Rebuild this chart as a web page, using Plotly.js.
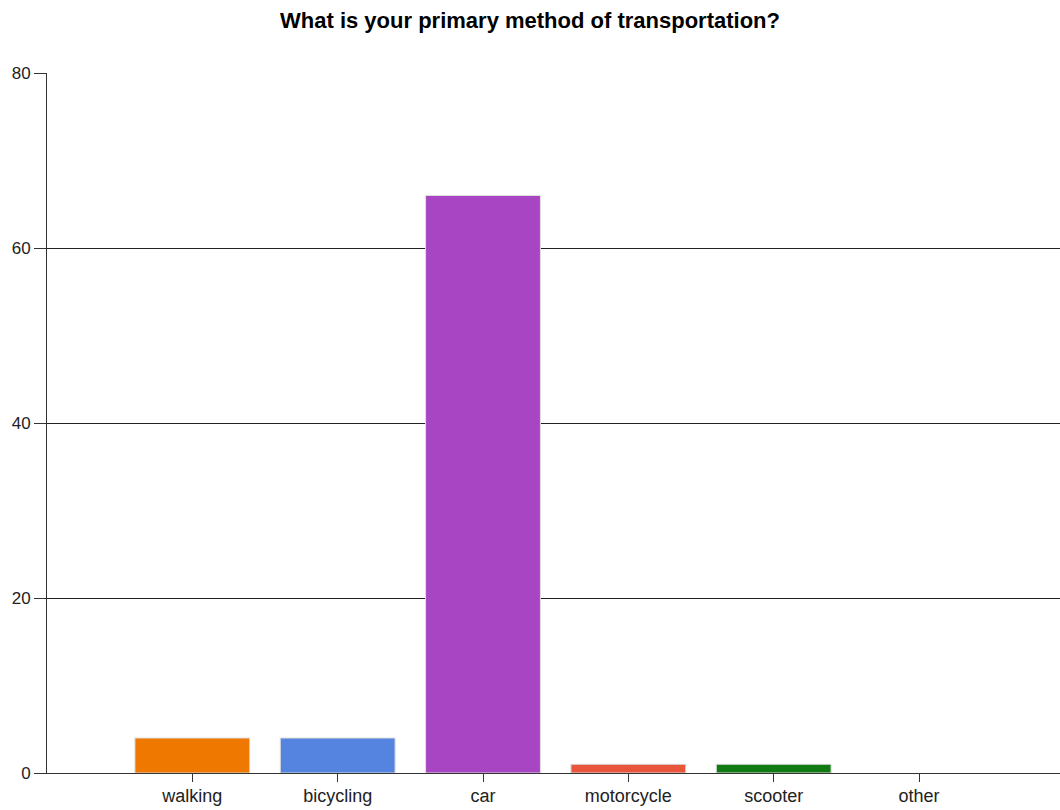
<!DOCTYPE html>
<html>
<head>
<meta charset="utf-8">
<script src="https://cdn.plot.ly/plotly-3.0.1.min.js"></script>
<style>html,body{margin:0;padding:0;background:#fff;}#chart{width:1060px;height:810px;}</style>
</head>
<body>
<div id="chart"></div>
<script>
const categories = ["walking", "bicycling", "car", "motorcycle", "scooter", "other"];
const counts = [4, 4, 66, 1, 1, 0];
const barColors = ["#ee7800", "#5584e0", "#a845c3", "#e8553a", "#127a12", "#999999"];
const yTicks = [0, 20, 40, 60, 80];

const trace = {
  type: "bar",
  x: categories.map((c, i) => i),
  y: counts,
  width: 0.79,
  marker: {
    color: barColors,
    line: { color: "#dddddd", width: counts.map(v => (v > 0 ? 1 : 0)) }
  },
  hoverinfo: "x+y"
};

const layout = {
  width: 1060, height: 810,
  margin: { l: 47, r: 0, t: 73, b: 37, pad: 0 },
  paper_bgcolor: "#ffffff", plot_bgcolor: "#ffffff",
  showlegend: false,
  title: {
    text: "<b>What is your primary method of transportation?</b>",
    font: { family: "Liberation Sans, Arial, sans-serif", size: 22, color: "#000" },
    x: 0.5, xanchor: "center", y: 0.975, yanchor: "middle"
  },
  font: { family: "Liberation Sans, Arial, sans-serif", size: 16, color: "#222" },
  xaxis: {
    range: [-1, 5.97],
    tickmode: "array",
    tickvals: categories.map((c, i) => i),
    ticktext: categories,
    tickfont: { size: 18, color: "#222" },
    ticks: "outside", ticklen: 8, tickcolor: "#333", tickwidth: 1,
    ticklabelstandoff: -2,
    showgrid: false, zeroline: false,
    showline: true, linecolor: "#333", linewidth: 1,
    fixedrange: true
  },
  yaxis: {
    range: [0, 80],
    tickmode: "array", tickvals: yTicks, ticktext: yTicks.map(String),
    tickfont: { size: 17, color: "#222" },
    ticks: "outside", ticklen: 12, tickcolor: "#333", tickwidth: 1,
    showgrid: true, gridcolor: "#222", gridwidth: 1,
    zeroline: false,
    showline: true, linecolor: "#333", linewidth: 1,
    fixedrange: true
  },
  bargap: 0.21
};

Plotly.newPlot("chart", [trace], layout, { displayModeBar: false, staticPlot: true });
</script>
</body>
</html>
